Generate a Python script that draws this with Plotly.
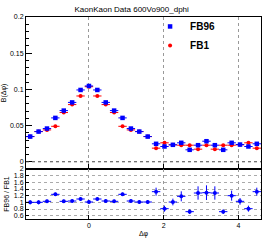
import plotly.graph_objects as go

# bin centres (delta phi) and half bin width
dphi = [-1.571, -1.346, -1.122, -0.898, -0.673, -0.449, -0.224, 0.0, 0.224, 0.449,
        0.673, 0.898, 1.122, 1.346, 1.571, 1.795, 2.020, 2.244, 2.468, 2.693,
        2.917, 3.142, 3.366, 3.590, 3.815, 4.039, 4.264, 4.488]
half_bin = [0.112] * len(dphi)

fb96 = [0.0348, 0.0417, 0.0459, 0.0606, 0.0707, 0.0820, 0.0992, 0.1047, 0.0992, 0.0820,
        0.0707, 0.0606, 0.0459, 0.0417, 0.0348, 0.0248, 0.0211, 0.0234, 0.0262, 0.0165,
        0.0229, 0.0284, 0.0229, 0.0165, 0.0262, 0.0238, 0.0211, 0.0248]
fb1 = [0.0348, 0.0417, 0.0440, 0.0490, 0.0680, 0.0790, 0.0909, 0.1037, 0.0909, 0.0790,
       0.0680, 0.0490, 0.0440, 0.0417, 0.0348, 0.0188, 0.0262, 0.0234, 0.0229, 0.0229,
       0.0174, 0.0229, 0.0174, 0.0229, 0.0229, 0.0234, 0.0262, 0.0188]
err_main = [0.0015] * len(dphi)

ratio = [1.00, 1.00, 1.03, 1.24, 1.03, 1.04, 1.10, 1.01, 1.10, 1.04,
         1.03, 1.24, 1.04, 1.01, 1.01, 1.32, 0.81, 1.01, 1.18, 0.72,
         1.28, 1.29, 1.28, 0.72, 1.20, 1.03, 0.81, 1.32]
ratio_err = [0.06, 0.06, 0.05, 0.05, 0.05, 0.05, 0.05, 0.05, 0.05, 0.05,
             0.05, 0.05, 0.05, 0.05, 0.06, 0.12, 0.09, 0.10, 0.15, 0.07,
             0.20, 0.22, 0.20, 0.07, 0.15, 0.10, 0.09, 0.12]

xticks = [0, 2, 4]
main_yticks = [0, 0.05, 0.1, 0.15, 0.2]
ratio_yticks = [0.6, 0.8, 1, 1.2, 1.4, 1.6, 1.8, 2]

FONT = "Liberation Sans"

fig = go.Figure()

fig.add_trace(go.Scatter(
    x=dphi, y=fb1, mode="markers", name="FB1", legendrank=2,
    marker=dict(symbol="circle", size=4, color="#ff0000"),
    error_x=dict(type="data", array=half_bin, width=0, thickness=1, color="#ff0000"),
    error_y=dict(type="data", array=err_main, width=0, thickness=1, color="#ff0000"),
    xaxis="x", yaxis="y"))
fig.add_trace(go.Scatter(
    x=dphi, y=fb96, mode="markers", name="FB96", legendrank=1,
    marker=dict(symbol="square", size=4.5, color="#0000ff"),
    error_x=dict(type="data", array=half_bin, width=0, thickness=1, color="#0000ff"),
    error_y=dict(type="data", array=err_main, width=0, thickness=1, color="#0000ff"),
    xaxis="x", yaxis="y"))
fig.add_trace(go.Scatter(
    x=dphi, y=ratio, mode="markers", showlegend=False,
    marker=dict(symbol="circle", size=4, color="#0000ff"),
    error_x=dict(type="data", array=half_bin, width=0, thickness=1, color="#0000ff"),
    error_y=dict(type="data", array=ratio_err, width=0, thickness=1, color="#0000ff"),
    xaxis="x2", yaxis="y2"))

# dashed zero line in the main panel
fig.add_shape(type="line", xref="x domain", yref="y", x0=0, x1=1, y0=0, y1=0,
              line=dict(color="#444444", width=1, dash="dot"))

split = 50 / 202
axis_common = dict(showline=True, linecolor="black", linewidth=1, mirror=True,
                   ticks="inside", tickcolor="black", zeroline=False, automargin=False,
                   tickfont=dict(family=FONT, size=7, color="black"))

fig.update_layout(
    width=266, height=241,
    margin=dict(l=26, r=5, t=17, b=22, autoexpand=False),
    paper_bgcolor="white", plot_bgcolor="white",
    font=dict(family=FONT, size=7, color="black"),
    title=dict(text="KaonKaon Data 600Vo900_dphi", x=0.495, xref="container",
               xanchor="center", y=0.963, yanchor="middle", automargin=False,
               font=dict(family=FONT, size=8, color="black")),
    showlegend=True,
    legend=dict(x=0.528, y=1.025, xanchor="left", yanchor="top",
                bgcolor="rgba(0,0,0,0)", borderwidth=0, tracegroupgap=0,
                font=dict(family=FONT, size=10, color="black", weight="bold"),
                itemwidth=30),
    xaxis=dict(domain=[0, 1], anchor="y", range=[-1.683, 4.600],
               tickvals=xticks, showticklabels=False, ticklen=5,
               showgrid=True, gridcolor="#999999", griddash="dot", gridwidth=1,
               **axis_common),
    yaxis=dict(domain=[split, 1], anchor="x", range=[-0.01, 0.2],
               tickvals=main_yticks, ticklen=6, showgrid=False,
               minor=dict(ticks="inside", dtick=0.01, tick0=0, ticklen=3,
                          tickcolor="black", showgrid=False),
               title=dict(text="B(Δφ)", standoff=3,
                          font=dict(family=FONT, size=7, color="black")),
               **axis_common),
    xaxis2=dict(domain=[0, 1], anchor="y2", range=[-1.683, 4.600], matches="x",
                tickvals=xticks, ticklen=4, showgrid=True, gridcolor="#999999",
                griddash="dot", gridwidth=1,
                title=dict(text="Δφ", standoff=2,
                           font=dict(family=FONT, size=7, color="black")),
                **axis_common),
    yaxis2=dict(domain=[0, split], anchor="x2", range=[0.5, 2.0],
                tickvals=ratio_yticks, ticklen=3, showgrid=True,
                gridcolor="#aaaaaa", griddash="dot", gridwidth=1,
                title=dict(text="FB96 / FB1", standoff=3,
                           font=dict(family=FONT, size=7, color="black")),
                **axis_common),
)

fig.write_html("out.html", config={"displayModeBar": False, "staticPlot": True},
               post_script="document.body.style.margin='0';document.body.style.overflow='hidden';")
